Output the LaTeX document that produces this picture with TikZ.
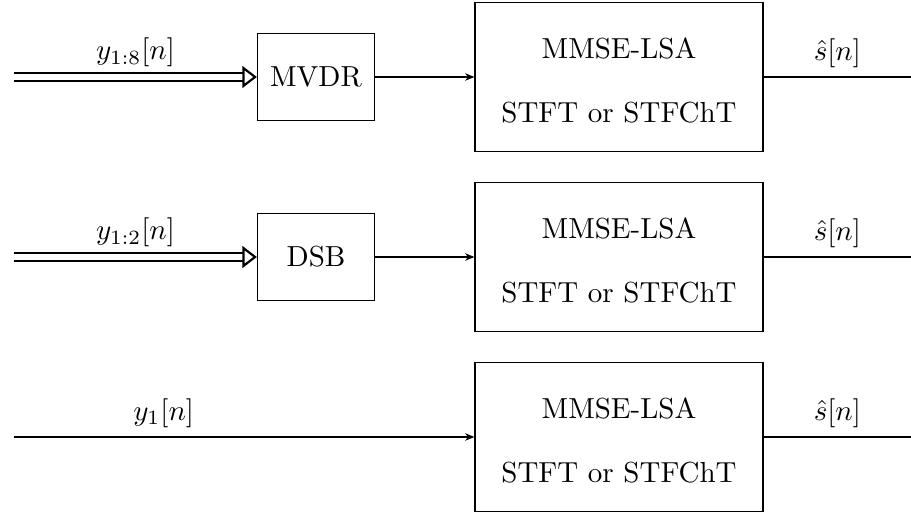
\documentclass[tikz,border=0pt]{standalone}
\usetikzlibrary{arrows.meta}
\begin{document}
\begin{tikzpicture}[x=0.345pt,y=-0.345pt,
  bigblock/.style={draw, minimum width=99.4pt, minimum height=51.4pt, align=center, inner sep=0pt},
  smallblock/.style={draw, minimum width=40.4pt, minimum height=30pt, inner sep=0pt},
  sig/.style={-{Stealth[length=3.2pt,width=2.6pt]}},
  multisig/.style={line width=0.75pt, double, double distance=1.8pt, -{Triangle[open,length=5pt,width=7.5pt]}},
  lbl/.style={above, inner sep=3pt}]
\useasboundingbox (0,0) rectangle (911,512);

% MVDR beamformer branch
\node[smallblock] (mvdr) at (316,77) {MVDR};
\node[bigblock] (lsa1) at (619,77) {\rule{0pt}{9.6pt}MMSE-LSA\\[10.1pt]STFT or STFChT};
\coordinate (in1) at (14,77);
\coordinate (out1) at (911,77);
\draw[multisig] (in1) -- node[lbl] {$y_{1:8}[n]$} (mvdr);
\draw[sig] (mvdr) -- (lsa1);
\draw (lsa1) -- node[lbl] {$\hat{s}[n]$} (out1);

% delay-and-sum branch
\node[smallblock] (dsb) at (316,257) {DSB};
\node[bigblock] (lsa2) at (619,257) {\rule{0pt}{9.6pt}MMSE-LSA\\[10.1pt]STFT or STFChT};
\coordinate (in2) at (14,257);
\coordinate (out2) at (911,257);
\draw[multisig] (in2) -- node[lbl] {$y_{1:2}[n]$} (dsb);
\draw[sig] (dsb) -- (lsa2);
\draw (lsa2) -- node[lbl] {$\hat{s}[n]$} (out2);

% single-microphone branch
\node[bigblock] (lsa3) at (619,437) {\rule{0pt}{9.6pt}MMSE-LSA\\[10.1pt]STFT or STFChT};
\coordinate (in3) at (14,437);
\coordinate (out3) at (911,437);
\draw[sig] (in3) -- node[lbl, pos=0.325] {$y_1[n]$} (lsa3);
\draw (lsa3) -- node[lbl] {$\hat{s}[n]$} (out3);
\end{tikzpicture}
\end{document}
